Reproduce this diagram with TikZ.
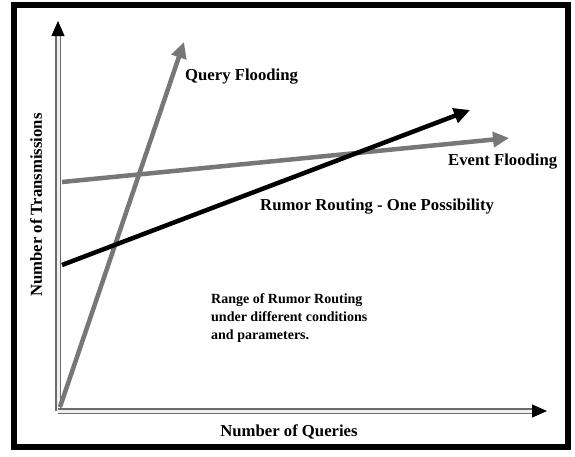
\documentclass[tikz,border=0pt]{standalone}
\usepackage{fontspec}
\setmainfont{Liberation Serif}
\usetikzlibrary{arrows.meta}
\definecolor{lgray}{HTML}{777777}
\tikzset{
  axisline/.style={draw=lgray!90!black, line width=1.8pt, double=white!88!gray, double distance=3pt},
  axistip/.style={-{Triangle[length=15pt,width=13pt]}, black, line width=1pt},
  series/.style={line width=4.5pt, -{Triangle[length=16pt,width=15pt]}},
  lbl/.style={font=\bfseries\fontsize{16.7}{19}\selectfont, inner sep=0pt},
  lblsmall/.style={font=\bfseries\fontsize{14}{18}\selectfont, inner sep=0pt, align=left},
}
\begin{document}
\begin{tikzpicture}[x=1pt,y=-1pt]
\useasboundingbox (0,0) rectangle (575,456);
\fill[white] (0,0) rectangle (575,456);
\draw[line width=6pt, black] (13.5,5) rectangle (567.5,447);
% coordinates
\coordinate (O) at (58,411);
\coordinate (Ytip) at (58,21);
\coordinate (Xtip) at (547,411);
\coordinate (qs) at (60,407);
\coordinate (qt) at (184,42);
\coordinate (es) at (62,182);
\coordinate (et) at (509,138);
\coordinate (rs) at (62,265);
\coordinate (rt) at (470,110);
% axes
\draw[axisline] (O) -- ([yshift=-13]Ytip);
\draw[axistip] ([yshift=-14]Ytip) -- (Ytip);
\draw[axisline] (O) -- ([xshift=-13]Xtip);
\draw[axistip] ([xshift=-14]Xtip) -- (Xtip);
% series
\draw[series, lgray] (qs) -- (qt);
\draw[series, lgray] (es) -- (et);
\draw[series, black] (rs) -- (rt);
% labels
\node[lbl, anchor=west] (lq) at (185,77) {Query Flooding};
\node[lbl, anchor=west] (le) at (448,162) {Event Flooding};
\node[lbl, anchor=west] (lr) at (260,207) {Rumor Routing - One Possibility};
\node[lblsmall, anchor=north west] (lrange) at (211,293) {Range of Rumor Routing\\under different conditions\\and parameters.};
\node[lbl] (lx) at (289,432) {Number of Queries};
\node[lbl, rotate=90] (ly) at (36,205) {Number of Transmissions};
\end{tikzpicture}
\end{document}
